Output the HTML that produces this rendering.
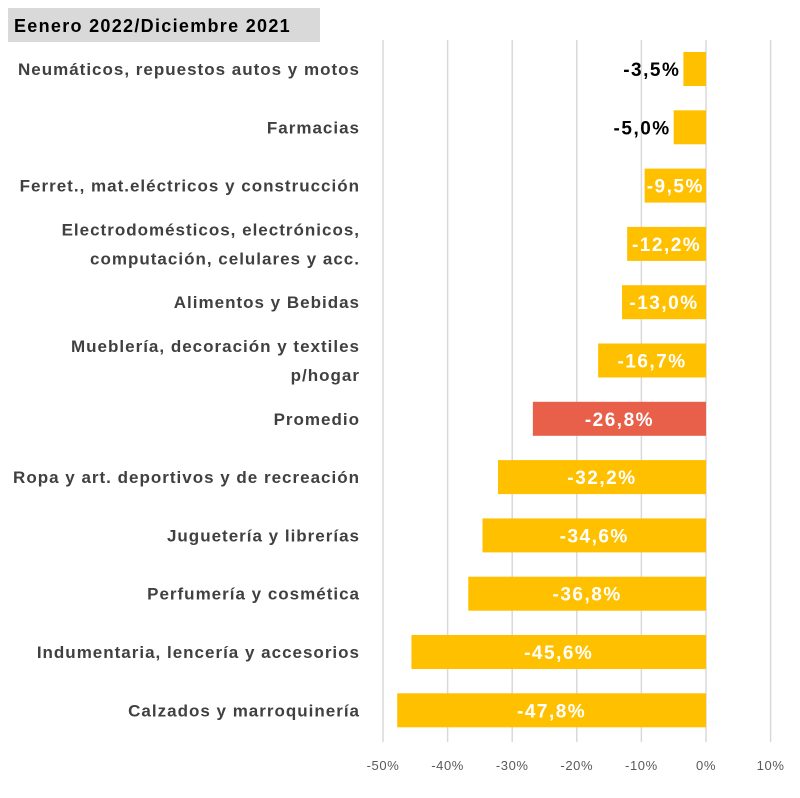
<!DOCTYPE html>
<html><head><meta charset="utf-8"><style>
body{margin:0;background:#fff;width:800px;height:793px;overflow:hidden;font-family:"Liberation Sans",sans-serif}
</style></head><body>
<svg width="800" height="793">
<rect x="8" y="8" width="312" height="34" fill="#d9d9d9"/>
<text x="14" y="32" font-size="18" font-weight="bold" letter-spacing="1.3" fill="#000">Eenero 2022/Diciembre 2021</text>
<g id="grid"></g><g id="bars"></g>
</svg>
<script>
const categories=[["Neumáticos, repuestos autos y motos"],["Farmacias"],["Ferret., mat.eléctricos y construcción"],["Electrodomésticos, electrónicos,","computación, celulares y acc."],["Alimentos y Bebidas"],["Mueblería, decoración y textiles","p/hogar"],["Promedio"],["Ropa y art. deportivos y de recreación"],["Juguetería y librerías"],["Perfumería y cosmética"],["Indumentaria, lencería y accesorios"],["Calzados y marroquinería"]];
const values=[-3.5,-5.0,-9.5,-12.2,-13.0,-16.7,-26.8,-32.2,-34.6,-36.8,-45.6,-47.8];
const ticks=[-50,-40,-30,-20,-10,0,10];
const NS="http://www.w3.org/2000/svg";
const x=v=>706+v*6.46;
const y=i=>69+i*58.3;
const g=document.getElementById('grid'),b=document.getElementById('bars');
function mk(t,a,p){const e=document.createElementNS(NS,t);for(const k in a)e.setAttribute(k,a[k]);p.appendChild(e);return e;}
ticks.forEach(t=>{
 const l=mk('line',{x1:x(t),x2:x(t),y1:40,y2:742,stroke:'#d9d9d9','stroke-width':1.5},g);
 
 
 const tx=mk('text',{x:x(t),y:770,'font-size':13,'letter-spacing':0.6,fill:'#595959','text-anchor':'middle'},g);
 tx.textContent=t+'%';
 
 
});
values.forEach((v,i)=>{
 const cy=y(i);
 const r=mk('rect',{x:x(v),y:cy-17,width:x(0)-x(v),height:34,fill:categories[i][0]==='Promedio'?'#e8604a':'#ffc000'},b);
 
 
 const lines=categories[i];
 lines.forEach((s,j)=>{
  const t=mk('text',{x:360,y:cy+6+(j-(lines.length-1)/2)*29,'font-size':17,'letter-spacing':1,'font-weight':'bold',fill:'#404040','text-anchor':'end'},b);
  t.textContent=s;
  
  
 });
 const lab=v.toFixed(1).replace('.',',')+'%';
 const outside=v>-7;
 const lt=mk('text',{x:outside?x(v)-3:(x(v)+x(0))/2,y:cy+7,'font-size':19,'letter-spacing':1.5,'font-weight':'bold',fill:outside?'#000':'#fff','text-anchor':outside?'end':'middle'},b);
 lt.textContent=lab;
 
 
});
</script>
</body></html>
